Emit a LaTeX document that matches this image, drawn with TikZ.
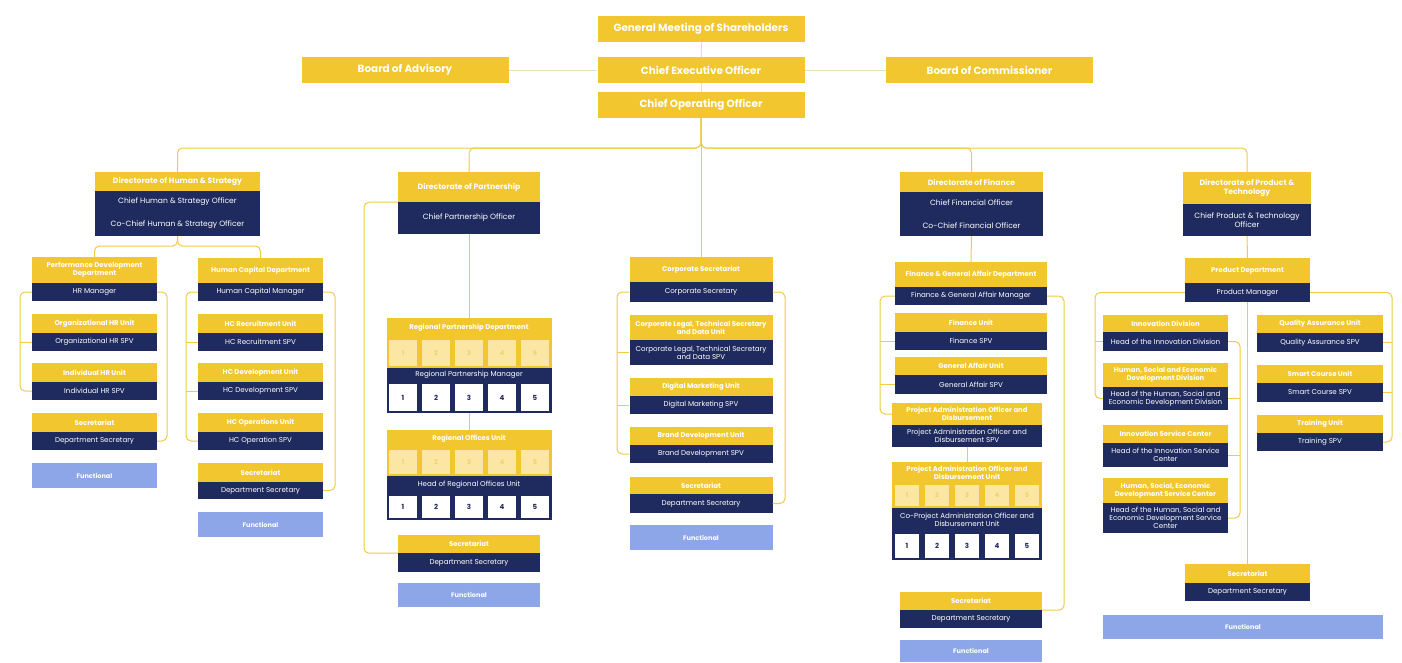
\documentclass[tikz,border=0pt]{standalone}
\usepackage{fontspec}
\setmainfont{Poppins}
\definecolor{yel}{HTML}{F2C62E}
\definecolor{navy}{HTML}{1F2B5E}
\definecolor{lblue}{HTML}{8DA6E8}
\definecolor{cellY}{HTML}{FBE7A3}
\definecolor{cellT}{HTML}{F1D06E}
\definecolor{linkc}{HTML}{F0CB45}
\definecolor{palelink}{HTML}{EBE0B4}

% one organisational unit: yellow title bar over a navy role bar
% #1 name, #2 centre x, #3 width, #4 top, #5 split, #6 bottom, #7 title, #8 role, #9 style suffix
\newcommand\orgunit[9]{%
  \node[hbox#9, minimum width=#3, minimum height={#5-#4}] (#1h) at (#2,{(#4+#5)/2}) {#7};
  \node[nbox#9, minimum width=#3, minimum height={#6-#5}] (#1n) at (#2,{(#5+#6)/2}) {#8};
}
% a row of five numbered cells: #1 prefix, #2 centre x, #3 pitch, #4 centre y, #5 w, #6 h, #7 style
\newcommand\cellrow[7]{%
  \foreach \k in {1,...,5}{\node[#7, minimum width=#5, minimum height=#6] (#1\k) at ({#2+(\k-3)*#3},#4) {\k};}
}

\begin{document}
\begin{tikzpicture}[x=1pt,y=-1pt,
  base/.style={rectangle, inner sep=0pt, align=center, text=white},
  hbox/.style={base, fill=yel, font=\fontsize{6.9}{8}\selectfont\bfseries},
  nbox/.style={base, fill=navy, font=\fontsize{7.1}{8.3}\selectfont},
  hboxd/.style={base, fill=yel, font=\fontsize{7.7}{9}\selectfont\bfseries},
  nboxd/.style={base, fill=navy, font=\fontsize{7.6}{8.8}\selectfont},
  topbox/.style={base, fill=yel, font=\fontsize{10.4}{12}\selectfont\bfseries, minimum width=207, minimum height=26},
  fbox/.style={base, fill=lblue, font=\fontsize{6.5}{7.5}\selectfont\bfseries},
  band/.style={base, fill=yel},
  nband/.style={base, fill=navy},
  ycell/.style={base, fill=cellY, text=cellT, font=\fontsize{6.5}{7.5}\selectfont\bfseries},
  wcell/.style={base, fill=white, text=navy, font=\fontsize{7}{8}\selectfont\bfseries},
  link/.style={draw=linkc, line width=1pt, rounded corners=5pt},
  toplink/.style={draw=palelink, line width=1pt}
]
\fill[white] (0,0) rectangle (1402,662);
\useasboundingbox (0,0) rectangle (1402,662);

% ---------- board level ----------
\node[topbox] (gms) at (701,28.5) {General Meeting of Shareholders};
\node[topbox] (boa) at (405,70) {Board of Advisory};
\node[topbox] (ceo) at (701,70) {Chief Executive Officer};
\node[topbox] (boc) at (989.5,70) {Board of Commissioner};
\node[topbox] (coo) at (701,105) {Chief Operating Officer};

% ---------- directorates ----------
\orgunit{hs}{177.5}{165}{172}{191}{236}{Directorate of Human \& Strategy}{Chief Human \& Strategy Officer\\[14pt]Co-Chief Human \& Strategy Officer}{d}
\orgunit{pt}{469}{142}{172}{202}{234}{Directorate of Partnership}{Chief Partnership Officer}{d}
\orgunit{fn}{971.5}{143}{172}{192}{236}{Directorate of Finance}{Chief Financial Officer\\[14pt]Co-Chief Financial Officer}{d}
\orgunit{pr}{1247}{128}{172}{204}{236}{Directorate of Product \&\\Technology}{Chief Product \& Technology\\Officer}{d}

% ---------- human & strategy ----------
\orgunit{hr}{94.5}{125}{257}{283}{301}{Performance Development\\Department}{HR Manager}{}
\orgunit{oh}{94.5}{125}{314}{333}{351}{Organizational HR Unit}{Organizational HR SPV}{}
\orgunit{ih}{94.5}{125}{363}{382}{400}{Individual HR Unit}{Individual HR SPV}{}
\orgunit{sa}{94.5}{125}{413}{432}{450}{Secretariat}{Department Secretary}{}
\node[fbox, minimum width=125, minimum height=25] (fa) at (94.5,475.5) {Functional};

\orgunit{hc}{260.5}{125}{258}{283}{301}{Human Capital Department}{Human Capital Manager}{}
\orgunit{hcr}{260.5}{125}{314}{333}{351}{HC Recruitment Unit}{HC Recruitment SPV}{}
\orgunit{hcd}{260.5}{125}{363}{382}{400}{HC Development Unit}{HC Development SPV}{}
\orgunit{hco}{260.5}{125}{413}{432}{450}{HC Operations Unit}{HC Operation SPV}{}
\orgunit{sb}{260.5}{125}{463}{482}{499}{Secretariat}{Department Secretary}{}
\node[fbox, minimum width=125, minimum height=25] (fb) at (260.5,524.5) {Functional};

% ---------- partnership ----------
\node[hbox, minimum width=165, minimum height=20] (rph) at (469,328) {Regional Partnership Department};
\node[band, minimum width=165, minimum height=30] (rpy) at (469,353) {};
\node[nbox, minimum width=165, minimum height=14] (rpn) at (469,375) {Regional Partnership Manager};
\node[nband, minimum width=165, minimum height=31] (rpw) at (469,397.5) {};
\cellrow{rpy}{469}{33}{353}{28}{26}{ycell}
\cellrow{rpw}{469}{33}{397.5}{28}{27}{wcell}

\node[hbox, minimum width=165, minimum height=18] (roh) at (469,439) {Regional Offices Unit};
\node[band, minimum width=165, minimum height=28] (roy) at (469,462) {};
\node[nbox, minimum width=165, minimum height=18] (ron) at (469,485) {Head of Regional Offices Unit};
\node[nband, minimum width=165, minimum height=26] (row) at (469,507) {};
\cellrow{roy}{469}{33}{462}{28}{24}{ycell}
\cellrow{row}{469}{33}{507}{28}{22}{wcell}

\orgunit{sp}{469}{142}{535}{553}{572}{Secretariat}{Department Secretary}{}
\node[fbox, minimum width=142, minimum height=24] (fp) at (469,595) {Functional};

% ---------- corporate secretariat ----------
\orgunit{cs}{701}{143}{257}{282}{302}{Corporate Secretariat}{Corporate Secretary}{}
\orgunit{cl}{701}{143}{315}{340}{365}{Corporate Legal, Technical Secretary\\and Data Unit}{Corporate Legal, Technical Secretary\\and Data SPV}{}
\orgunit{dm}{701}{143}{378}{396}{414}{Digital Marketing Unit}{Digital Marketing SPV}{}
\orgunit{bd}{701}{143}{427}{445}{463}{Brand Development Unit}{Brand Development SPV}{}
\orgunit{sc}{701}{143}{477}{494}{513}{Secretariat}{Department Secretary}{}
\node[fbox, minimum width=143, minimum height=25] (fc) at (701,537.5) {Functional};

% ---------- finance ----------
\orgunit{fg}{971}{152}{262}{287}{305}{Finance \& General Affair Department}{Finance \& General Affair Manager}{}
\orgunit{fu}{971}{152}{313}{332}{350}{Finance Unit}{Finance SPV}{}
\orgunit{ga}{971}{152}{357}{375}{394}{General Affair Unit}{General Affair SPV}{}
\orgunit{pa}{967}{150}{403}{425}{447}{Project Administration Officer and\\Disbursement}{Project Administration Officer and\\Disbursement SPV}{}

\node[hbox, minimum width=150, minimum height=21] (puh) at (967,472.5) {Project Administration Officer and\\Disbursement Unit};
\node[band, minimum width=150, minimum height=25] (puy) at (967,495.5) {};
\node[nbox, minimum width=150, minimum height=24] (pun) at (967,520) {Co-Project Administration Officer and\\Disbursement Unit};
\node[nband, minimum width=150, minimum height=28] (puw) at (967,546) {};
\cellrow{puy}{967}{30}{495.5}{24}{21}{ycell}
\cellrow{puw}{967}{30}{546}{24}{24}{wcell}

\orgunit{sf}{971}{142}{592}{610}{628}{Secretariat}{Department Secretary}{}
\node[fbox, minimum width=142, minimum height=22] (ff) at (971,651) {Functional};

% ---------- product & technology ----------
\orgunit{pd}{1247.5}{125}{258}{283}{302}{Product Department}{Product Manager}{}
\orgunit{id}{1165.5}{125}{315}{332}{351}{Innovation Division}{Head of the Innovation Division}{}
\orgunit{hd}{1165.5}{125}{363}{387}{410}{Human, Social and Economic\\Development Division}{Head of the Human, Social and\\Economic Development Division}{}
\orgunit{is}{1165.5}{125}{425}{443}{467}{Innovation Service Center}{Head of the Innovation Service\\Center}{}
\orgunit{hx}{1165.5}{125}{478}{503}{533}{Human, Social, Economic\\Development Service Center}{Head of the Human, Social and\\Economic Development Service\\Center}{}
\orgunit{qa}{1320}{126}{315}{333}{352}{Quality Assurance Unit}{Quality Assurance SPV}{}
\orgunit{sm}{1320}{126}{365}{383}{402}{Smart Course Unit}{Smart Course SPV}{}
\orgunit{tr}{1320}{126}{415}{433}{451}{Training Unit}{Training SPV}{}
\orgunit{sr}{1247.5}{125}{564}{583}{601}{Secretariat}{Department Secretary}{}
\node[fbox, minimum width=280, minimum height=24] (fr) at (1243,627) {Functional};

% ---------- connectors ----------
\draw[toplink] (gms) -- (ceo);
\draw[toplink] (ceo) -- (coo);
\draw[toplink] (boa) -- (ceo);
\draw[toplink] (ceo) -- (boc);

\coordinate (busC) at (701,148);
\foreach \d in {hsh,pth,fnh,prh}{\draw[link] (coo.south) -- (busC) -| (\d.north);}
\draw[link] (coo.south) -- (csh.north);

% human & strategy
\coordinate (hsBus) at (177.5,246);
\draw[link] (hsn.south) -- (hsBus) -| (hrh.north);
\draw[link] (hsn.south) -- (hsBus) -| (hch.north);
\coordinate (xa) at (20,0);
\coordinate (xb) at (167,0);
\coordinate (xc) at (186,0);
\coordinate (xd) at (335,0);
\draw[link] (hrn.west) -- (hrn.west -| xa) -- (ihn.west -| xa) -- (ihn.west);
\draw[link] (ohn.west -| xa) -- (ohn.west);
\draw[link] (hrn.east) -- (hrn.east -| xb) -- (san.east -| xb) -- (san.east);
\draw[link] (hcn.west) -- (hcn.west -| xc) -- (hcon.west -| xc) -- (hcon.west);
\draw[link] (hcrn.west -| xc) -- (hcrn.west);
\draw[link] (hcdn.west -| xc) -- (hcdn.west);
\draw[link] (hcn.east) -- (hcn.east -| xd) -- (sbn.east -| xd) -- (sbn.east);

% partnership
\coordinate (xp) at (364,0);
\draw[link] (pth.south west) -- (pth.south west -| xp) -- (sph.south west -| xp) -- (sph.south west);
\draw[link] (ptn.south) -- (rph.north);
\draw[link] (rpw.south) -- (roh.north);

% corporate secretariat
\coordinate (xe) at (617,0);
\coordinate (xf) at (785,0);
\draw[link] (csn.west) -- (csn.west -| xe) -- (bdn.west -| xe) -- (bdn.west);
\draw[link] (cln.west -| xe) -- (cln.west);
\draw[link] (dmn.west -| xe) -- (dmn.west);
\draw[link] (csn.east) -- (csn.east -| xf) -- (scn.east -| xf) -- (scn.east);

% finance
\coordinate (xg) at (880,0);
\coordinate (xh) at (1064,0);
\draw[link] (fnn.south) -- (fgh.north);
\draw[link] (fgn.west) -- (fgn.west -| xg) -- (pah.west -| xg) -- (pah.west);
\draw[link] (fun.west -| xg) -- (fun.west);
\draw[link] (gan.west -| xg) -- (gan.west);
\draw[link] (fgn.east) -- (fgn.east -| xh) -- (sfh.south east -| xh) -- (sfh.south east);
\draw[link] (pan.south) -- (puh.north);

% product & technology
\coordinate (xi) at (1095,0);
\coordinate (xj) at (1392,0);
\coordinate (xk) at (1240,0);
\draw[link] (prn.south) -- (pdh.north);
\draw[link] (pdn.west) -- (pdn.west -| xi) -- (hdn.west -| xi) -- (hdn.west);
\draw[link] (idn.west -| xi) -- (idn.west);
\draw[link] (pdn.east) -- (pdn.east -| xj) -- (trn.east -| xj) -- (trn.east);
\draw[link] (qan.east -| xj) -- (qan.east);
\draw[link] (smn.east -| xj) -- (smn.east);
\draw[link] (pdn.south) -- (srh.north);
\draw[link] (idn.east) -- (idn.east -| xk) -- (hxn.east -| xk) -- (hxn.east);
\draw[link] (hdn.east -| xk) -- (hdn.east);
\draw[link] (isn.east -| xk) -- (isn.east);
\end{tikzpicture}
\end{document}
